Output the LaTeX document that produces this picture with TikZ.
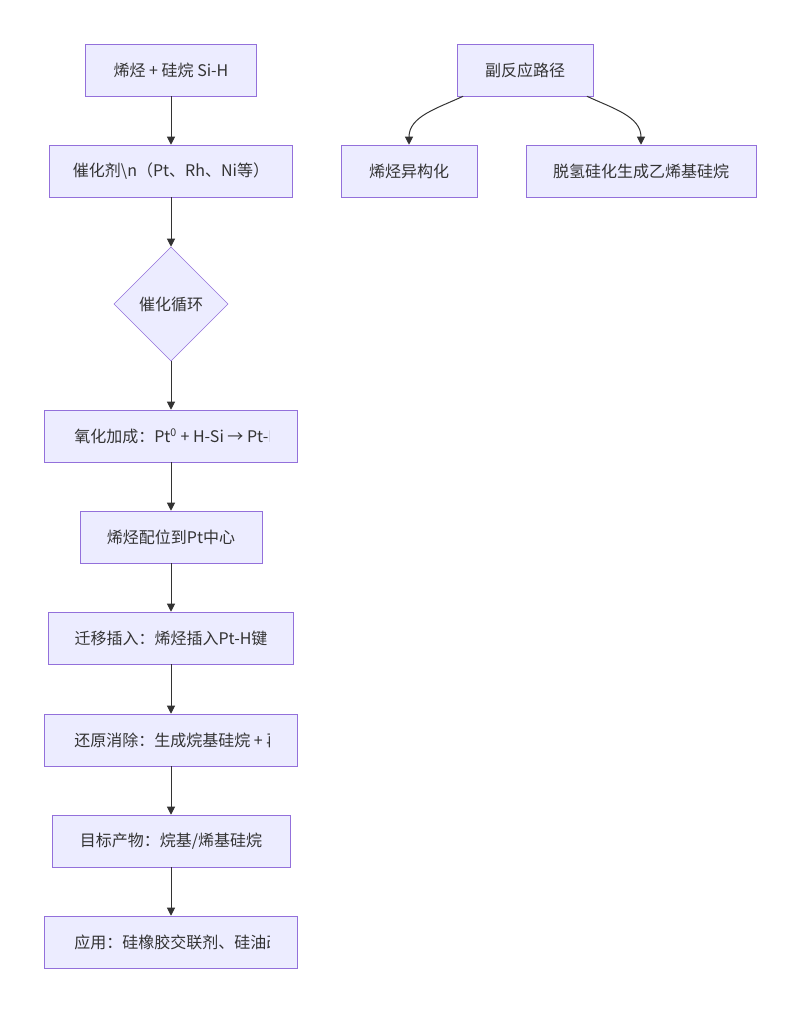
\documentclass[tikz,border=0pt]{standalone}
\usepackage{fontspec}
\setmainfont{Noto Sans CJK SC}
\usetikzlibrary{shapes.geometric, positioning, arrows.meta}
\definecolor{boxfill}{HTML}{ECECFF}
\definecolor{boxline}{HTML}{9370DB}
\definecolor{inkgray}{HTML}{333333}

\begin{document}
\begin{tikzpicture}[
    x=0.75pt, y=-0.75pt,
    box/.style={rectangle, draw=boxline, fill=boxfill, text=inkgray, minimum height=39pt, inner sep=0pt, font=\fontsize{12}{14}\selectfont},
    cyc/.style={diamond, draw=boxline, fill=boxfill, text=inkgray, minimum width=85.5pt, minimum height=85.5pt, inner sep=0pt, font=\fontsize{12}{14}\selectfont},
    label/.style={anchor=west, inner sep=0pt, text=inkgray, font=\fontsize{12}{14}\selectfont},
    arrow/.style={-{Triangle[length=6pt,width=6pt]}, draw=inkgray, line width=0.75pt}
]
    \useasboundingbox (0,0) rectangle (800,1013);

    % main route
    \node[box, minimum width=128.25pt] (alkene) at (171,70) {烯烃 + 硅烷 Si-H};
    \node[box, minimum width=182.25pt] (catalyst) at (171,171) {催化剂\textbackslash n（Pt、Rh、Ni等）};
    \node[cyc] (cycle) at (171,304) {催化循环};
    \node[box, minimum width=189.75pt] (oxadd) at (171,436) {};
    \node[box, minimum width=136.5pt] (coord) at (171,537) {烯烃配位到Pt中心};
    \node[box, minimum width=183.75pt] (insert) at (171,638) {迁移插入：烯烃插入Pt-H键};
    \node[box, minimum width=189.75pt] (redelim) at (171,740) {};
    \node[box, minimum width=178.5pt] (product) at (171,841) {目标产物：烷基/烯基硅烷};
    \node[box, minimum width=189.75pt] (usage) at (171,942) {};

    % labels that run past their boxes
    \begin{scope}
        \clip (74,420) rectangle (269,452);
        \node[label] (oxaddtxt) at (74,436) {氧化加成：Pt\textsuperscript{0} + H-Si → Pt-H};
    \end{scope}
    \begin{scope}
        \clip (74,724) rectangle (269,756);
        \node[label] (redelimtxt) at (74,740) {还原消除：生成烷基硅烷 + 再生催化剂};
    \end{scope}
    \begin{scope}
        \clip (74,926) rectangle (269,958);
        \node[label] (usagetxt) at (74,942) {应用：硅橡胶交联剂、硅油改性};
    \end{scope}

    % side reactions
    \node[box, minimum width=102pt] (side) at (525,70) {副反应路径};
    \node[box, minimum width=102pt] (isomer) at (409,171) {烯烃异构化};
    \node[box, minimum width=172.5pt] (dehydro) at (641,171) {脱氢硅化生成乙烯基硅烷};

    \draw[arrow] (alkene) -- (catalyst);
    \draw[arrow] (catalyst) -- (cycle);
    \draw[arrow] (cycle) -- (oxadd);
    \draw[arrow] (oxadd) -- (coord);
    \draw[arrow] (coord) -- (insert);
    \draw[arrow] (insert) -- (redelim);
    \draw[arrow] (redelim) -- (product);
    \draw[arrow] (product) -- (usage);

    \draw[arrow] (side.203) to[out=205, in=90] (isomer.north);
    \draw[arrow] (side.337) to[out=-25, in=90] (dehydro.north);
\end{tikzpicture}
\end{document}
